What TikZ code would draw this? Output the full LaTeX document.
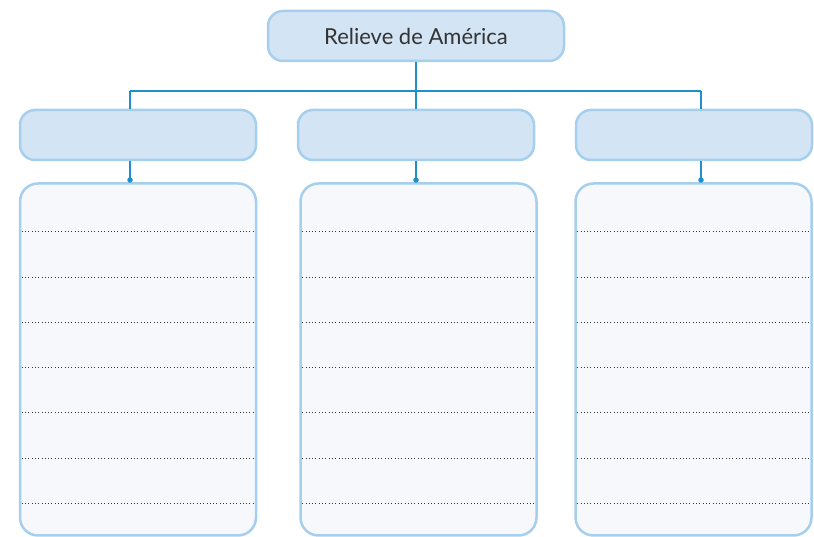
\documentclass[tikz,border=0pt]{standalone}
\usepackage{fontspec}
\setmainfont{Lato}
\usetikzlibrary{calc}
\definecolor{hdrfill}{HTML}{D3E4F4}
\definecolor{hdrline}{HTML}{A6CFEE}
\definecolor{boxfill}{HTML}{F6F8FC}
\definecolor{conn}{HTML}{1E8ECD}
\definecolor{txt}{HTML}{333333}
\tikzset{
  hdr/.style={draw=hdrline, fill=hdrfill, line width=2.5pt, rounded corners=15pt,
    minimum width=236pt, minimum height=50pt, inner sep=0pt},
  tophdr/.style={hdr, minimum width=296pt, text=txt, font=\fontsize{22}{26}\selectfont},
  lowbox/.style={draw=hdrline, fill=boxfill, line width=2.5pt, rounded corners=18pt,
    minimum width=236pt, minimum height=352pt, inner sep=0pt},
  conline/.style={draw=conn, line width=1.6pt},
  dotline/.style={draw=black!80, line width=0.9pt, dash pattern=on 0.9pt off 2.4pt},
  condot/.style={circle, fill=conn, inner sep=0pt, minimum size=5.5pt}
}
\begin{document}
\begin{tikzpicture}[x=1pt,y=1pt]
\useasboundingbox (0,0) rectangle (814,537);
% headers
\node[tophdr] (top) at (416,501) {Relieve de América};
\node[hdr] (h1) at (138,402) {};
\node[hdr] (h2) at (416,402) {};
\node[hdr] (h3) at (694,402) {};
% lower boxes
\node[lowbox] (b1) at (138,177.5) {};
\node[lowbox] (b2) at (418.5,177.5) {};
\node[lowbox] (b3) at (693.5,177.5) {};
% connector coordinates
\coordinate (busL) at (130,446);
\coordinate (busR) at (701,446);
\coordinate (d1) at (130,357);
\coordinate (d2) at (416,357);
\coordinate (d3) at (701,357);
% connectors
\draw[conline] (top.south) -- (h2.north);
\draw[conline] (busL) -- (busR);
\draw[conline] (busL) -- (busL |- h1.north);
\draw[conline] (busR) -- (busR |- h3.north);
\draw[conline] (d1 |- h1.south) -- (d1);
\draw[conline] (d2 |- h2.south) -- (d2);
\draw[conline] (d3 |- h3.south) -- (d3);
\node[condot] at (d1) {};
\node[condot] at (d2) {};
\node[condot] at (d3) {};
% dotted lines
\foreach \b in {b1,b2,b3}{
  \foreach \y in {306,260,215,170,125,79,34}{
    \draw[dotline] ($(\b.west |- 0,\y)+(3,0)$) -- ($(\b.east |- 0,\y)+(-1.5,0)$);
  }
}
\end{tikzpicture}
\end{document}
